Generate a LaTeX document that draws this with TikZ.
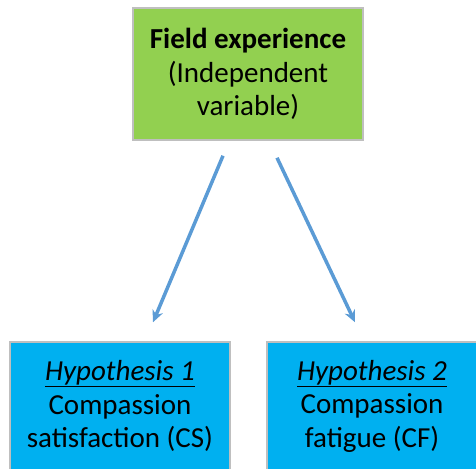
\documentclass[tikz,border=0pt]{standalone}
\usepackage{fontspec}
\setmainfont{Carlito}
\usepackage{xcolor}
\usetikzlibrary{positioning, arrows.meta, calc}
\definecolor{fieldgreen}{HTML}{92D050}
\definecolor{hypblue}{HTML}{00B0F0}
\definecolor{edgegray}{HTML}{BFBFBF}
\definecolor{linkblue}{HTML}{5B9BD5}
\tikzset{
  varbox/.style={
    draw=edgegray, line width=1.5pt,
    align=center, inner sep=0pt,
    font=\fontsize{29}{33.5}\selectfont
  },
  link/.style={
    -{Stealth[length=12pt, width=11pt]},
    line width=3.5pt,
    color=linkblue
  }
}
\begin{document}
\begin{tikzpicture}[x=1pt, y=-1pt]
  \useasboundingbox (0,0) rectangle (476,468);

  % Boxes
  \node[varbox, fill=fieldgreen, minimum width=230pt, minimum height=132pt] (field) at (248,74)
    {\textbf{Field experience}\\(Independent\\variable)};
  \node[varbox, fill=hypblue, minimum width=220pt, minimum height=128pt] (hyp1) at (120,406)
    {\underline{\textit{Hypothesis 1}}\\Compassion\\satisfaction (CS)};
  \node[varbox, fill=hypblue, minimum width=210pt, minimum height=128pt] (hyp2) at (372,406)
    {\underline{\textit{Hypothesis 2}}\\Compassion\\fatigue (CF)};

  % Arrows
  \draw[link] ([xshift=-25pt, yshift=-15pt]field.south) -- ([xshift=33pt, yshift=19pt]hyp1.north);
  \draw[link] ([xshift=29pt, yshift=-17pt]field.south) -- ([xshift=-17pt, yshift=19pt]hyp2.north);

\end{tikzpicture}
\end{document}
